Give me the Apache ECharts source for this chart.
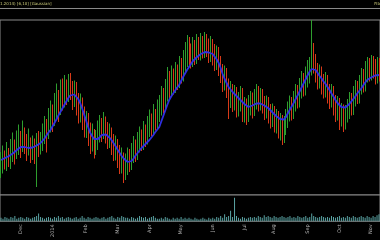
<!DOCTYPE html>
<html><head><meta charset="utf-8">
<script src="https://cdn.jsdelivr.net/npm/echarts@6/dist/echarts.min.js"></script>
<style>html,body{margin:0;padding:0;background:#000}#c{width:380px;height:240px}</style>
</head><body><div id="c"></div>
<script>
var opens = [35.8,36.4,37.6,36.9,38.1,37.3,38.5,39.6,38.6,40.0,41.0,40.1,41.5,40.4,39.3,40.2,
38.9,39.5,38.7,40.5,39.8,40.7,42.0,43.3,42.8,44.6,46.1,45.4,47.4,48.8,47.8,50.0,
49.6,51.2,50.3,52.2,50.8,49.7,50.6,48.5,47.0,47.6,45.3,43.8,44.2,42.3,40.9,41.7,
39.8,40.9,42.5,43.7,43.0,44.0,42.6,41.5,41.8,40.3,39.1,39.6,37.8,36.5,37.0,34.9,
35.8,37.3,36.8,38.2,39.4,38.9,40.3,41.5,40.9,42.3,41.8,43.5,44.6,44.0,45.4,44.9,
46.6,47.8,49.4,48.6,50.7,52.4,51.6,53.3,52.4,53.8,53.2,55.0,54.5,56.4,57.7,59.4,
58.1,57.5,59.0,58.2,60.0,59.0,60.2,59.4,60.8,59.6,58.8,59.7,58.3,57.2,57.8,55.8,
54.4,52.9,53.7,51.4,49.6,50.5,48.9,49.8,47.8,48.8,49.6,46.6,47.4,46.3,47.8,48.6,
47.6,49.0,50.0,48.9,49.4,48.1,47.2,47.8,46.3,45.5,46.0,44.7,45.1,43.9,44.3,42.8,
43.9,45.3,46.6,47.8,47.1,48.7,50.0,49.5,51.2,52.5,51.9,53.5,54.7,55.8,57.8,56.2,
54.6,53.3,53.9,52.2,51.5,52.3,50.4,49.4,50.0,48.1,47.0,47.6,45.8,46.3,45.0,46.1,
47.0,48.5,47.9,49.6,50.8,50.2,51.9,53.2,52.5,54.4,55.6,54.8,56.1,55.0,54.2,55.4];
var closes = [36.2,37.5,36.8,38.0,37.2,38.6,39.4,38.5,40.1,41.2,40.0,41.8,40.6,39.2,40.4,38.8,
39.6,38.8,40.4,39.7,40.8,41.9,43.4,42.6,44.8,46.2,45.3,47.5,48.9,47.6,50.2,49.4,
51.3,50.2,52.4,51.0,49.6,50.8,48.4,46.9,47.8,45.2,43.6,44.4,42.1,40.8,41.9,39.6,
40.8,42.6,43.8,42.9,44.2,42.5,41.3,42.0,40.2,39.0,39.8,37.6,36.4,37.2,34.8,35.9,
37.4,36.6,38.3,39.5,38.7,40.4,41.6,40.8,42.5,41.7,43.6,44.8,43.9,45.6,44.7,46.8,
47.9,49.5,48.4,50.8,52.6,51.5,53.4,52.2,54.0,53.1,55.2,54.3,56.5,57.8,59.6,58.2,
57.4,59.2,58.0,60.1,58.9,60.4,59.3,61.0,59.8,58.7,59.9,58.2,57.1,58.0,55.9,54.6,
52.8,53.9,51.5,49.4,50.6,48.8,49.9,47.6,48.7,49.8,46.4,47.5,46.1,47.9,48.8,47.4,
49.2,50.1,48.8,49.6,48.2,47.1,47.9,46.5,45.4,46.2,44.6,45.3,43.8,44.5,42.6,43.8,
45.2,46.8,47.9,47.0,48.8,50.2,49.4,51.3,52.7,51.8,53.6,54.9,56.0,57.6,56.4,54.4,
53.2,54.0,52.1,51.4,52.5,50.3,49.2,50.1,48.0,46.9,47.8,45.6,46.5,44.8,46.0,47.2,
48.6,47.8,49.7,50.9,50.1,52.0,53.3,52.4,54.6,55.8,54.7,56.3,55.2,54.1,55.6,54.8];
var highs = [38.6,39.9,38.9,40.6,39.4,41.2,42.5,41.1,42.9,44.1,42.8,44.9,43.5,42.2,43.3,41.5,
41.9,41.3,42.4,42.8,42.6,44.3,45.8,45.2,47.4,48.9,48.1,50.4,52.3,51.0,53.1,53.3,
54.0,53.1,54.2,54.4,52.8,52.9,52.6,50.4,50.3,49.5,47.7,46.8,46.4,44.5,44.3,43.2,
43.0,44.9,46.0,45.4,46.6,45.7,44.6,44.3,43.5,42.2,41.9,41.2,40.0,39.5,38.5,38.3,
39.5,39.2,40.4,41.8,41.1,42.6,43.7,43.1,44.8,44.1,45.8,47.1,46.3,48.2,47.2,49.1,
50.0,51.8,51.4,53.2,55.6,54.8,55.9,55.3,56.6,56.1,57.8,57.4,59.0,60.6,62.0,61.6,
60.3,61.6,61.0,62.2,61.6,62.4,61.8,62.6,62.2,61.3,61.8,61.2,60.2,59.9,59.6,57.8,
56.2,55.9,55.4,53.3,52.8,52.2,52.0,51.6,50.6,51.8,51.4,49.6,49.3,50.0,50.8,50.5,
51.2,52.2,51.8,51.4,51.2,49.8,49.9,49.6,48.2,48.3,47.8,47.2,46.8,46.4,46.0,45.8,
47.2,48.7,49.9,49.6,50.8,52.2,52.0,53.4,54.8,54.4,55.7,57.0,57.6,65.0,60.4,58.2,
56.4,56.1,55.7,54.2,54.6,54.0,52.2,52.2,51.8,50.0,49.8,49.4,48.4,48.1,48.0,49.2,
50.6,50.4,51.8,53.0,52.8,54.0,55.4,55.2,56.8,57.6,57.4,58.0,57.8,57.2,57.6,57.4];
var lows = [33.4,34.3,35.1,34.8,35.6,35.2,36.6,36.1,37.2,38.0,37.4,38.6,38.2,36.8,37.9,36.4,
37.0,36.2,31.6,37.6,38.1,38.8,40.2,38.5,41.2,42.5,42.6,43.8,45.1,44.6,46.0,46.9,
47.5,48.0,48.6,49.0,47.0,47.6,45.9,44.3,44.5,43.0,41.5,41.4,39.8,38.2,38.7,37.3,
38.0,39.0,40.5,40.6,41.2,40.3,39.2,39.4,38.0,36.8,36.9,35.4,34.2,34.3,32.4,33.0,
34.0,34.6,35.0,36.4,36.6,37.0,38.5,38.8,39.0,39.6,40.1,41.6,41.8,42.1,42.9,43.0,
44.6,45.9,46.3,46.8,48.7,49.1,49.7,50.1,50.4,51.0,51.4,52.3,52.7,54.3,55.6,55.9,
55.3,55.6,56.0,56.2,57.0,56.9,57.3,57.4,57.6,56.4,56.6,55.9,54.8,55.0,53.8,52.4,
50.6,50.9,49.4,45.2,47.4,46.6,46.9,45.5,45.7,46.7,44.6,44.5,44.0,44.6,45.9,45.3,
45.8,47.1,46.7,46.9,46.3,45.0,45.3,44.3,43.3,43.6,42.5,42.3,41.3,40.9,40.0,40.4,
42.0,43.4,44.7,44.9,45.2,46.7,47.3,47.5,49.3,49.7,49.9,51.5,52.3,53.9,54.3,52.5,
51.1,51.3,50.1,49.3,49.5,48.3,47.2,47.5,45.9,44.6,44.9,43.0,43.7,42.6,43.1,44.5,
45.2,45.9,46.0,47.7,48.2,48.3,50.1,50.5,50.7,52.5,52.7,52.9,53.3,52.1,52.3,52.7];
var gauss = [37.0,37.2,37.4,37.6,37.8,38.0,38.3,38.7,39.0,39.3,39.6,39.7,39.6,39.5,39.4,39.4,
39.5,39.7,39.9,40.2,40.4,40.8,41.3,41.9,42.5,43.0,43.7,44.4,45.1,45.9,46.6,47.3,
48.0,48.7,49.4,49.9,50.1,50.1,49.8,49.2,48.4,47.3,46.1,44.9,43.6,42.5,41.8,41.2,
41.0,41.2,41.6,42.0,42.2,42.1,41.8,41.4,40.9,40.3,39.7,39.0,38.4,37.8,37.3,36.9,
36.6,36.6,36.8,37.3,37.9,38.4,38.9,39.4,39.8,40.2,40.6,41.0,41.5,42.0,42.6,43.1,
43.6,44.7,45.8,46.9,48.0,49.0,49.7,50.3,50.9,51.5,52.0,52.8,53.6,54.3,55.0,55.6,
56.2,56.8,57.2,57.6,58.0,58.2,58.4,58.6,58.6,58.5,58.4,58.2,57.8,57.1,56.4,55.4,
54.2,53.2,52.4,51.6,51.1,50.6,50.2,49.8,49.4,49.0,48.6,48.2,47.9,47.6,47.7,47.9,
48.1,48.3,48.4,48.3,48.1,47.9,47.6,47.4,47.0,46.6,46.2,45.8,45.4,45.2,45.0,45.1,
45.6,46.4,47.1,47.8,48.5,49.3,50.0,50.8,51.6,52.4,53.2,54.0,54.7,55.2,55.4,55.0,
54.4,53.8,53.3,52.7,52.2,51.6,51.0,50.3,49.7,49.0,48.4,48.0,47.6,47.4,47.5,47.8,
48.2,48.7,49.2,49.7,50.3,50.8,51.3,51.9,52.5,53.0,53.3,53.5,53.7,53.9,54.0,54.0];
var volumes = [4,3,5,4,3,5,4,6,3,4,5,4,3,5,4,3,
4,5,6,9,5,4,3,4,5,4,3,5,4,6,4,5,
3,4,5,4,3,4,5,3,4,6,4,3,5,4,3,4,
5,4,3,4,5,3,4,5,6,4,3,5,4,6,5,4,
4,3,5,4,3,4,6,5,4,5,3,4,5,6,4,3,
3,4,3,5,4,3,2,4,3,4,3,5,3,4,3,4,
3,2,4,3,2,3,4,3,2,4,3,4,3,5,4,6,
4,8,5,6,12,5,27,6,4,3,5,4,3,4,5,4,
5,4,6,5,4,7,5,6,5,4,6,5,4,5,6,5,
4,5,6,4,5,4,6,5,4,5,6,4,5,9,6,5,
4,5,6,5,4,5,4,6,5,4,5,6,4,5,4,6,
5,4,6,5,4,5,6,5,4,6,5,4,6,5,7,8];
var tickIdx = [10,26,43,59,75,91,107,123,138,155,171,187];
var tickLabels = ['Dec','2014','Feb','Mar','Apr','May','Jun','Jul','Aug','Sep','Oct','Nov'];
var titleText = '1.2014) [6,10] [Gaussian]';
var cornerText = 'Fib';

var cats = opens.map(function(_, i){ return String(i); });
var ohlcRows = opens.map(function(o, i){ return [i, o, highs[i], lows[i], closes[i]]; });
var UP = '#2e9e2e', DOWN = '#d83a18';

function renderOHLC(params, api) {
  var i = api.value(0), o = api.value(1), h = api.value(2), l = api.value(3), c = api.value(4);
  var ph = api.coord([i, h]), pl = api.coord([i, l]);
  var x = Math.floor(ph[0]) + 0.5;
  var col = c >= o ? UP : DOWN;
  return {type:'line', shape:{x1:x, y1:ph[1], x2:x, y2:pl[1]}, style:{stroke: col, lineWidth: 1}};
}

var chart = echarts.init(document.getElementById('c'), null, {renderer:'canvas'});
chart.setOption({
  backgroundColor: '#000',
  animation: false,
  textStyle: {fontFamily: 'DejaVu Sans'},
  graphic: [
    {type:'line', shape:{x1:0,y1:8.5,x2:380,y2:8.5}, style:{stroke:'#8a8a8a', lineWidth:1}},
    {type:'text', left:0, top:1.5, style:{text:titleText, fill:'#c8c878', font:'4px DejaVu Sans'}},
    {type:'text', right:0, top:1.5, style:{text:cornerText, fill:'#c8c878', font:'4px DejaVu Sans'}}
  ],
  grid: [
    {left:-1, right:-1, top:20, height:175, show:true, borderColor:'#8a8a8a', borderWidth:1, backgroundColor:'#000'},
    {left:-1, right:-1, top:195, height:29, show:true, borderColor:'#8a8a8a', borderWidth:1, backgroundColor:'#000'}
  ],
  xAxis: [
    {type:'category', gridIndex:0, data:cats, show:false, boundaryGap:true},
    {type:'category', gridIndex:1, data:cats, boundaryGap:true,
     axisLine:{show:false}, axisTick:{show:false},
     axisLabel:{
       interval:function(idx){ return tickIdx.indexOf(idx) >= 0; },
       formatter:function(v, idx){ var k = tickIdx.indexOf(idx); return k >= 0 ? tickLabels[k] : ''; },
       rotate:90, fontSize:5, color:'#b0b0b0', margin:3, fontFamily:'DejaVu Sans'
     }}
  ],
  yAxis: [
    {type:'value', gridIndex:0, min:30, max:65, show:false},
    {type:'value', gridIndex:1, min:0, max:30, show:false}
  ],
  series: [
    {type:'custom', xAxisIndex:0, yAxisIndex:0, data:ohlcRows, renderItem:renderOHLC,
     encode:{x:0, y:[1,2,3,4]}, clip:true},
    {type:'line', xAxisIndex:0, yAxisIndex:0, data:gauss, showSymbol:false, z:5,
     lineStyle:{color:'#2f2fe0', width:1.8}},
    {type:'bar', xAxisIndex:1, yAxisIndex:1, data:volumes, barWidth:1,
     itemStyle:{color:'#5aa4a4'}}
  ]
});
</script></body></html>
